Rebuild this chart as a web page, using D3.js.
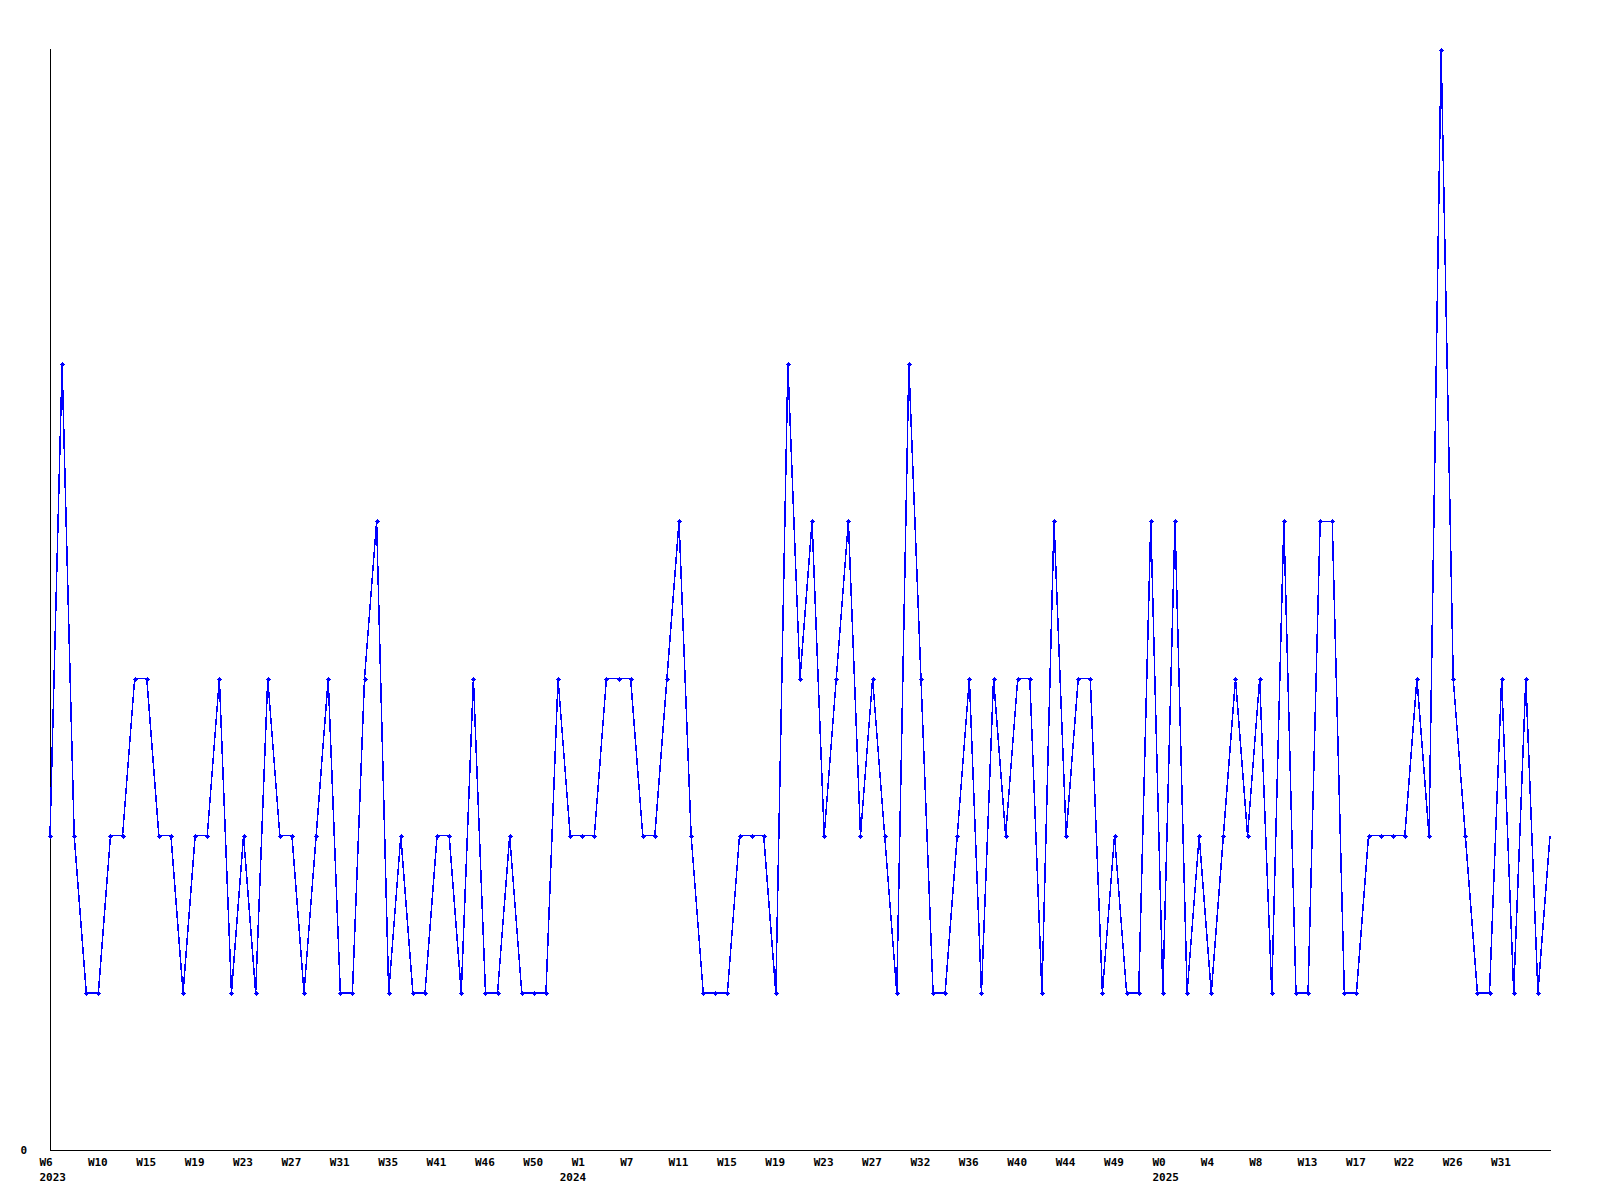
<!DOCTYPE html>
<html>
<head>
<meta charset="utf-8">
<script src="https://d3js.org/d3.v7.min.js"></script>
<style>
  html, body { margin: 0; padding: 0; background: #ffffff; }
  svg { display: block; }
  text { font-family: "DejaVu Sans Mono", "Liberation Mono", monospace; font-weight: bold; font-size: 11px; fill: #000; }
</style>
</head>
<body>
<script>
// ---- data ----
const values = [
  2,5,2,1,1,2,2,3,3,2,
  2,1,2,2,3,1,2,1,3,2,
  2,1,2,3,1,1,3,4,1,2,
  1,1,2,2,1,3,1,1,2,1,
  1,1,3,2,2,2,3,3,3,2,
  2,3,4,2,1,1,1,2,2,2,
  1,5,3,4,2,3,4,2,3,2,
  1,5,3,1,1,2,3,1,3,2,
  3,3,1,4,2,3,3,1,2,1,
  1,4,1,4,1,2,1,2,3,2,
  3,1,4,1,1,4,4,1,1,2,
  2,2,2,3,2,7,3,2,1,1,
  3,1,3,1,2
];
const weekLabels = ["W6","W10","W15","W19","W23","W27","W31","W35","W41","W46","W50",
                    "W1","W7","W11","W15","W19","W23","W27","W32","W36","W40","W44","W49",
                    "W0","W4","W8","W13","W17","W22","W26","W31"];
const weekLabelStep = 4;
const yearLabels = ["2023","2024","2025"];
const yearIndex = [0, 43, 92];
const yTickLabels = ["0"];
const yMax = 7;

// ---- layout ----
const W = 1600, H = 1200;
const mLeft = 50, mRight = 1550, mTop = 50, mBottom = 1150;

const svg = d3.select("body").append("svg").attr("width", W).attr("height", H);

const x = d3.scaleLinear().domain([0, values.length - 1]).range([mLeft, mRight]);
const y = d3.scaleLinear().domain([0, yMax]).range([mBottom, mTop]);

// axes lines
svg.append("line")
  .attr("x1", mLeft + 0.5).attr("x2", mLeft + 0.5)
  .attr("y1", mTop - 1).attr("y2", mBottom + 0.5)
  .attr("stroke", "#000").attr("stroke-width", 1).attr("shape-rendering", "crispEdges");
svg.append("line")
  .attr("x1", mLeft).attr("x2", mRight + 1)
  .attr("y1", mBottom + 0.5).attr("y2", mBottom + 0.5)
  .attr("stroke", "#000").attr("stroke-width", 1).attr("shape-rendering", "crispEdges");

// y tick label
svg.selectAll("text.ylab").data(yTickLabels).enter().append("text")
  .attr("class", "ylab")
  .attr("x", 27)
  .attr("y", y(0) + 4)
  .attr("text-anchor", "end")
  .text(d => d);

// x week labels
const tickIdx = weekLabels.map((d, i) => i * weekLabelStep);
svg.selectAll("text.wk").data(weekLabels).enter().append("text")
  .attr("class", "wk")
  .attr("x", (d, i) => x(tickIdx[i]) - 10.5)
  .attr("y", 1166)
  .attr("text-anchor", "start")
  .text(d => d);

// year labels
svg.selectAll("text.yr").data(yearLabels).enter().append("text")
  .attr("class", "yr")
  .attr("x", (d, i) => x(yearIndex[i]) - 10.5)
  .attr("y", 1181)
  .attr("text-anchor", "start")
  .text(d => d);

// line
const line = d3.line().x((d, i) => x(i)).y(d => y(d));
svg.append("path")
  .datum(values)
  .attr("d", line)
  .attr("fill", "none")
  .attr("stroke", "#0000ff")
  .attr("stroke-width", 1.5)
  .attr("shape-rendering", "crispEdges");

// markers (small plus)
const plus = "M-2.5,-0.5H-1.5V-1.5H-0.5V-2.5H0.5V-1.5H1.5V-0.5H2.5V0.5H1.5V1.5H0.5V2.5H-0.5V1.5H-1.5V0.5H-2.5Z";
svg.selectAll("path.mk").data(values.slice(0, values.length - 1)).enter().append("path")
  .attr("class", "mk")
  .attr("d", plus)
  .attr("transform", (d, i) => `translate(${Math.round(x(i))},${Math.round(y(d))})`)
  .attr("fill", "#0000ff")
  .attr("shape-rendering", "crispEdges");
</script>
</body>
</html>
